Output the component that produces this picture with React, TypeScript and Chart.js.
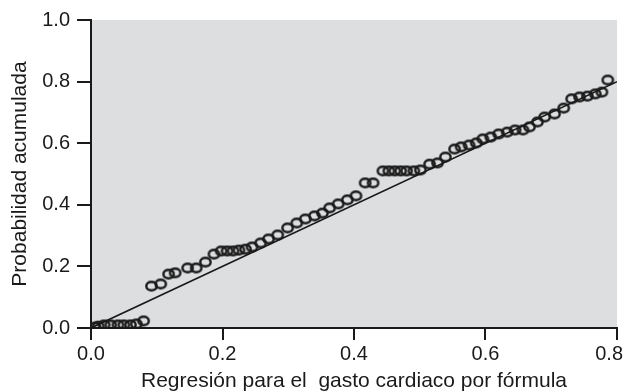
import React, { useEffect, useRef } from "react";
import { Chart, registerables } from "chart.js";

Chart.register(...registerables);

// Expected cumulative probability (x) and observed cumulative probability (y)
const expectedProb = [
  0.006, 0.011, 0.02, 0.03, 0.041, 0.05, 0.06, 0.069, 0.08, 0.092, 0.106, 0.118,
  0.128, 0.147, 0.16, 0.174, 0.187, 0.198, 0.207, 0.216, 0.225, 0.235, 0.245,
  0.258, 0.27, 0.284, 0.299, 0.313, 0.326, 0.34, 0.352, 0.363, 0.376, 0.39,
  0.403, 0.417, 0.429, 0.444, 0.453, 0.462, 0.471, 0.48, 0.491, 0.501, 0.515,
  0.527, 0.539, 0.553, 0.563, 0.575, 0.586, 0.596, 0.608, 0.62, 0.633, 0.645,
  0.657, 0.667, 0.679, 0.69, 0.705, 0.719, 0.731, 0.743, 0.755, 0.767, 0.777,
  0.786,
];
const observedProb = [
  0.003, 0.006, 0.01, 0.01, 0.01, 0.01, 0.01, 0.013, 0.023, 0.136, 0.143, 0.175,
  0.179, 0.195, 0.195, 0.214, 0.24, 0.25, 0.25, 0.25, 0.253, 0.256, 0.263,
  0.276, 0.289, 0.302, 0.325, 0.341, 0.354, 0.364, 0.373, 0.39, 0.403, 0.416,
  0.429, 0.471, 0.471, 0.51, 0.51, 0.51, 0.51, 0.51, 0.51, 0.513, 0.532, 0.536,
  0.555, 0.581, 0.588, 0.594, 0.601, 0.614, 0.62, 0.63, 0.636, 0.643, 0.643,
  0.653, 0.669, 0.685, 0.695, 0.714, 0.744, 0.75, 0.753, 0.76, 0.766, 0.805,
];
const refLineX = [0, 0.8];
const refLineY = [0, 0.8];
const xTicks = [0, 0.2, 0.4, 0.6, 0.8];
const yTicks = [0, 0.2, 0.4, 0.6, 0.8, 1.0];
const xTitle = "Regresión para el  gasto cardiaco por fórmula";
const yTitle = "Probabilidad acumulada";

const FONT = "'Liberation Sans', Arial, sans-serif";
const INK = "#1a1a1a";

function makeRing(): HTMLCanvasElement {
  const c = document.createElement("canvas");
  c.width = 15;
  c.height = 13;
  const g = c.getContext("2d")!;
  g.strokeStyle = INK;
  g.lineWidth = 2.4;
  g.beginPath();
  g.ellipse(7.5, 6.5, 5.2, 4.2, 0, 0, Math.PI * 2);
  g.stroke();
  return c;
}

const bgPlugin = {
  id: "plotBg",
  beforeDraw(chart: any) {
    const { ctx, chartArea } = chart;
    ctx.save();
    ctx.fillStyle = "rgb(221,222,224)";
    ctx.fillRect(
      chartArea.left,
      chartArea.top,
      chartArea.right - chartArea.left,
      chartArea.bottom - chartArea.top
    );
    ctx.restore();
    // keep the last x tick label inside the canvas
    const xs = chart.scales.x;
    const items = xs.getLabelItems();
    if (items.length) {
      const last = items[items.length - 1];
      last.options.textAlign = "right";
      last.options.translation[0] = chart.width - 1;
    }
  },
};

export default function App() {
  const ref = useRef<HTMLCanvasElement | null>(null);
  useEffect(() => {
    if (!ref.current) return;
    const ring = makeRing();
    const chart = new Chart(ref.current, {
      type: "scatter",
      data: {
        datasets: [
          {
            type: "line",
            data: refLineX.map((x, i) => ({ x, y: refLineY[i] })),
            borderColor: INK,
            borderWidth: 1.6,
            pointRadius: 0,
            fill: false,
            order: 2,
          } as any,
          {
            data: expectedProb.map((x, i) => ({ x, y: observedProb[i] })),
            pointStyle: ring as any,
            pointRadius: 6,
            borderColor: INK,
            backgroundColor: "transparent",
            order: 1,
          },
        ],
      },
      plugins: [bgPlugin],
      options: {
        animation: false,
        responsive: true,
        maintainAspectRatio: false,
        layout: { padding: { top: 20, right: 2, left: 0, bottom: 0 } },
        plugins: { legend: { display: false }, tooltip: { enabled: false } },
        scales: {
          x: {
            type: "linear",
            min: 0,
            max: 0.8,
            afterBuildTicks: (s: any) => {
              s.ticks = xTicks.map((v) => ({ value: v }));
            },
            afterFit: (s: any) => {
              s.height = 64;
              s.paddingLeft = 0;
              s.paddingRight = 0;
            },
            ticks: {
              font: { family: FONT, size: 20 },
              color: INK,
              padding: 2,
              maxRotation: 0,
              callback: (v: any) => Number(v).toFixed(1),
            },
            grid: {
              drawOnChartArea: false,
              drawTicks: true,
              tickLength: 12,
              color: INK,
              lineWidth: 2,
            },
            border: { display: true, color: INK, width: 2 },
            title: {
              display: true,
              text: xTitle,
              font: { family: FONT, size: 21 },
              color: INK,
              padding: { top: 0, bottom: -2 },
            },
          },
          y: {
            type: "linear",
            min: 0,
            max: 1,
            afterBuildTicks: (s: any) => {
              s.ticks = yTicks.map((v) => ({ value: v }));
            },
            afterFit: (s: any) => {
              s.width = 91;
              s.paddingTop = 0;
              s.paddingBottom = 0;
            },
            ticks: {
              font: { family: FONT, size: 20 },
              color: INK,
              padding: 7,
              callback: (v: any) => Number(v).toFixed(1),
            },
            grid: {
              drawOnChartArea: false,
              drawTicks: true,
              tickLength: 14,
              color: INK,
              lineWidth: 2,
            },
            border: { display: true, color: INK, width: 2 },
            title: {
              display: true,
              text: yTitle,
              font: { family: FONT, size: 21 },
              color: INK,
              padding: { top: 8, bottom: 0 },
            },
          },
        },
      },
    });
    return () => chart.destroy();
  }, []);
  return (
    <div
      style={{
        position: "fixed",
        left: 0,
        top: 0,
        width: 624,
        height: 392,
        background: "#fff",
      }}
    >
      <canvas ref={ref} />
    </div>
  );
}
